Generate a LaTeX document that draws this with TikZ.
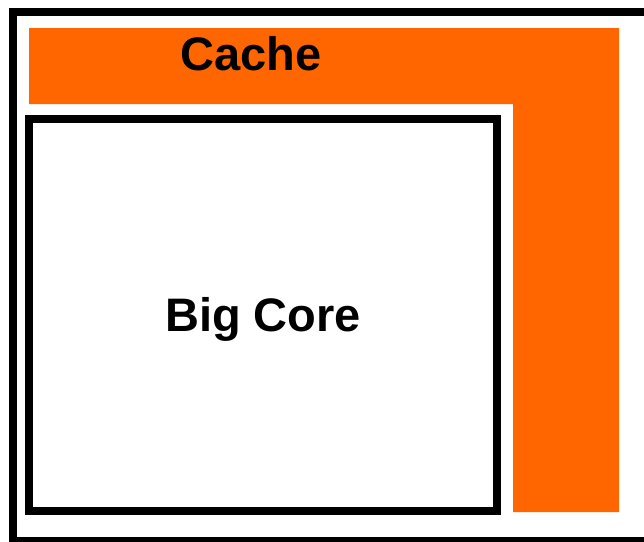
\documentclass[tikz,border=0pt]{standalone}
\usepackage{fontspec}
\setmainfont{Liberation Sans}
\begin{document}
\begin{tikzpicture}[x=1pt,y=-1pt,
  frame/.style={draw=black,line width=8pt},
  cachefill/.style={fill=orange1,draw=none},
  lbl/.style={font=\fontsize{47}{50}\selectfont\bfseries,inner sep=0pt,anchor=base}]
\definecolor{orange1}{HTML}{FF6600}
\useasboundingbox (0,0) rectangle (644,541);
\clip (0,0) rectangle (644,541);
\fill[white] (0,0) rectangle (644,541);
\draw[frame] (13,12) rectangle (660,541);
\path[cachefill] (29,28) -- (619,28) -- (619,512) -- (513,512) -- (513,104) -- (29,104) -- cycle;
\node[lbl] (cache) at (251,70) {Cache};
\draw[frame] (29,119) rectangle (497,511);
\node[lbl] (core) at (263,331) {Big Core};
\end{tikzpicture}
\end{document}
